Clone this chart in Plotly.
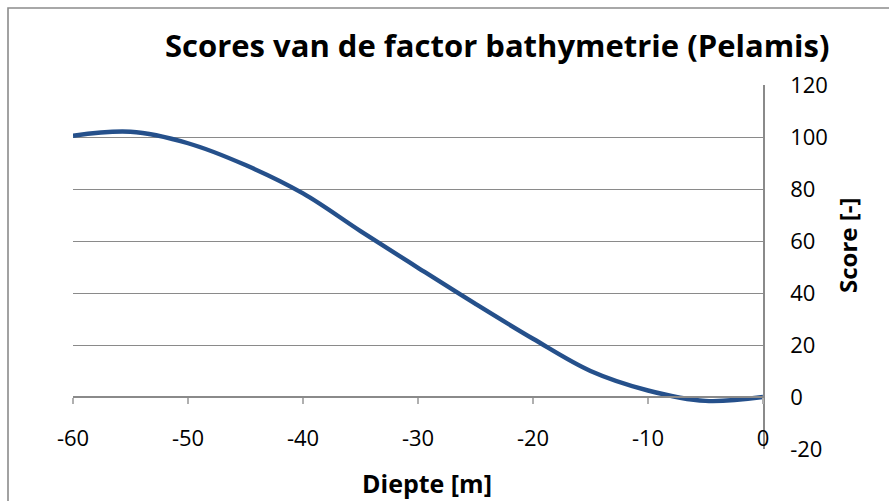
import plotly.graph_objects as go

# Depth (m) and score (-) for the bathymetry factor, Pelamis
depth = [-60, -55, -50, -45, -40, -35, -30, -25, -20, -15, -10, -5, 0]
score = [100.5, 102.0, 97.6, 89.2, 78.3, 63.8, 49.7, 35.8, 22.4, 10.0, 2.5, -1.5, 0.0]

x_ticks = [-60, -50, -40, -30, -20, -10, 0]
y_ticks = [-20, 0, 20, 40, 60, 80, 100, 120]

title_text = "Scores van de factor bathymetrie (Pelamis)"
x_title = "Diepte [m]"
y_title = "Score [-]"

FONT = "'Open Sans', Lato, sans-serif"
GRID = "#8a8a8a"
LINE_COLOR = "#25508b"

fig = go.Figure()
fig.add_trace(go.Scatter(
    x=depth, y=score, mode="lines",
    line=dict(color=LINE_COLOR, width=4.4, shape="spline", smoothing=1.0),
    hoverinfo="x+y", showlegend=False,
))

fig.update_layout(
    width=889, height=501,
    margin=dict(l=73, r=126, t=85, b=52),
    paper_bgcolor="white", plot_bgcolor="white",
    font=dict(family=FONT, color="black", size=22),
    xaxis=dict(
        range=[-60, 0], tickvals=x_ticks, ticktext=[str(v) for v in x_ticks],
        showgrid=False, zeroline=False,
        showline=True, linecolor=GRID, linewidth=1.5,
        ticks="outside", ticklen=6, tickcolor="#b0b0b0", tickwidth=1.5,
        anchor="free", position=(0 - (-20)) / 140,
        ticklabelstandoff=16,
        tickfont=dict(size=22, family=FONT),
        fixedrange=True,
    ),
    yaxis=dict(
        range=[-20, 120], tickvals=y_ticks, ticktext=[str(v) for v in y_ticks],
        side="right", anchor="x",
        showgrid=True, gridcolor=GRID, gridwidth=1.4,
        zeroline=False,
        showline=True, linecolor=GRID, linewidth=1.5,
        ticks="", ticklabelstandoff=21,
        tickfont=dict(size=22, family=FONT),
        fixedrange=True,
    ),
    shapes=[
        # outer chart frame (left and top edges visible)
        dict(type="path", xref="paper", yref="paper",
             path="M -0.0942,-0.3 L -0.0942,1.2115 L 1.3,1.2115",
             line=dict(color="#8c8c8c", width=1.6)),
    ],
    annotations=[
        dict(text="<b>" + title_text + "</b>", xref="paper", yref="paper",
             x=0.6145, y=1.1099, xanchor="center", yanchor="middle",
             showarrow=False, font=dict(size=31, family=FONT, color="black")),
        dict(text="<b>" + x_title + "</b>", xref="paper", yref="paper",
             x=0.513, y=-0.0934, xanchor="center", yanchor="middle",
             showarrow=False, font=dict(size=25, family=FONT, color="black")),
        dict(text="<b>" + y_title + "</b>", xref="paper", yref="paper",
             x=1.1217, y=0.5604, xanchor="center", yanchor="middle",
             textangle=-90, showarrow=False,
             font=dict(size=24, family=FONT, color="black")),
    ],
)

fig.write_html("out.html")
